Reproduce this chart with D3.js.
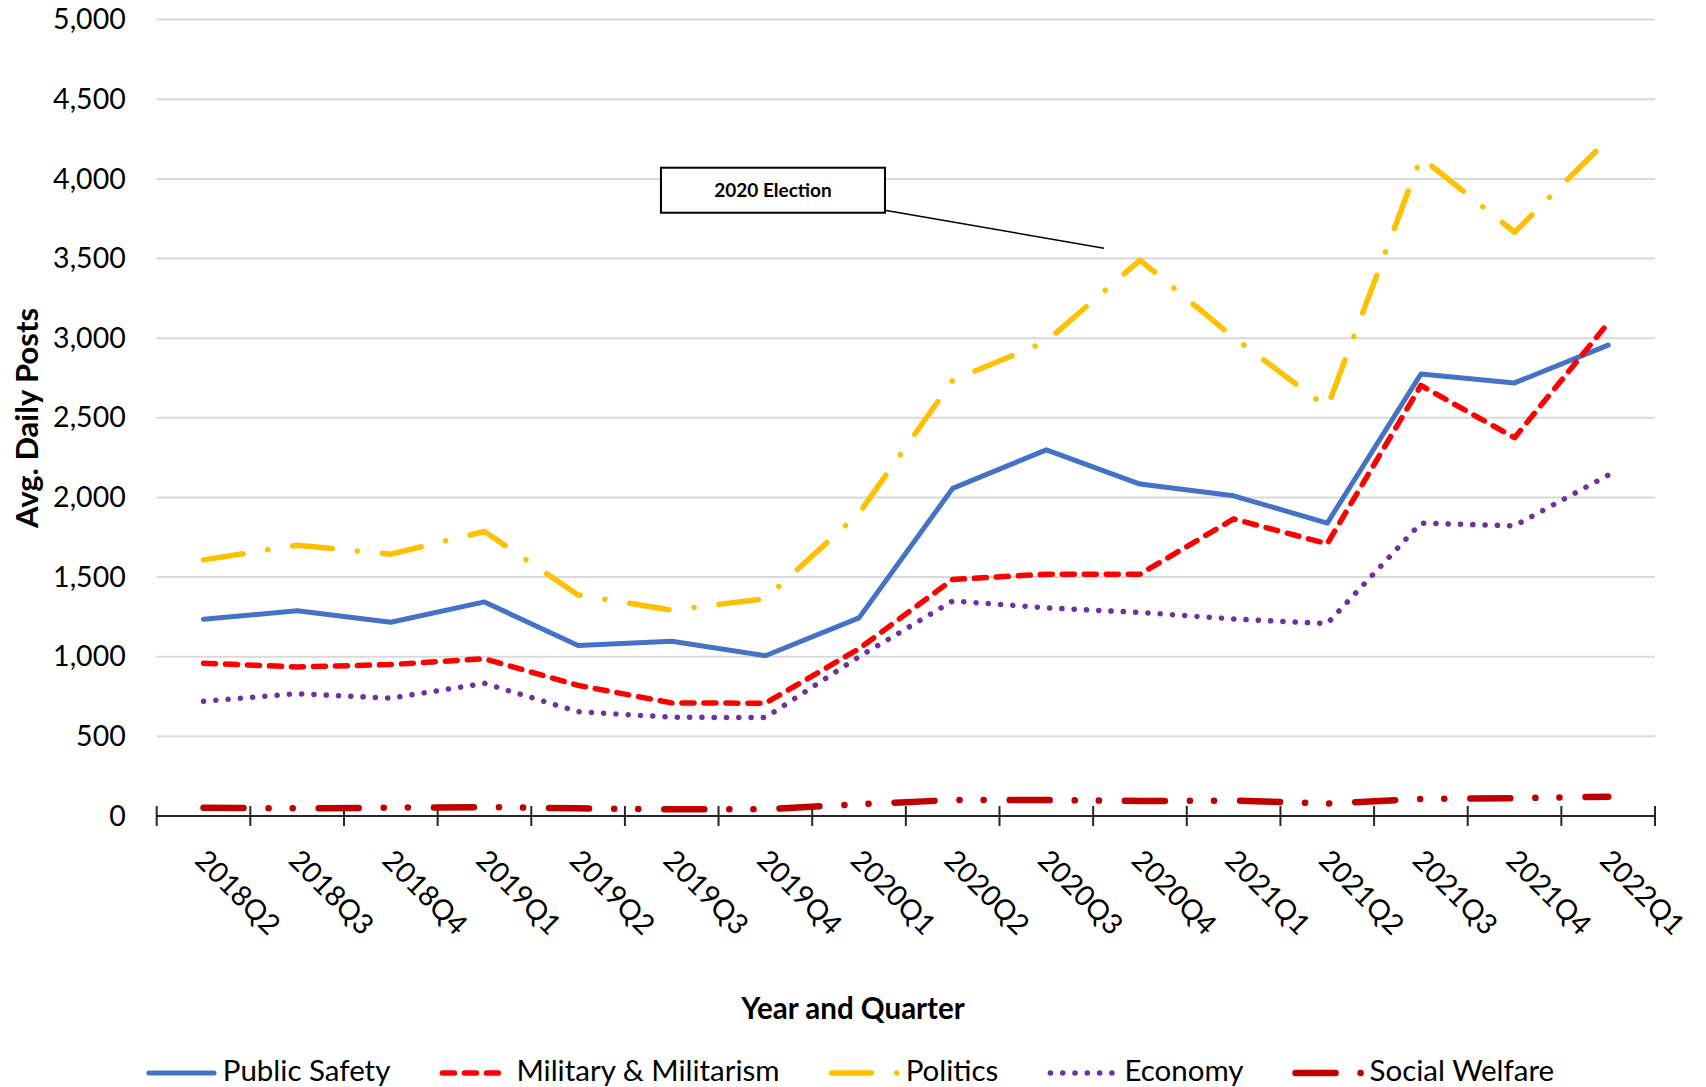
<!DOCTYPE html>
<meta charset="utf-8">
<style>
  body { margin: 0; background: #fff; }
  svg text { font-family: Lato, 'Open Sans', sans-serif; fill: #000; }
</style>
<body>
<div id="my_dataviz"></div>

<!-- Load d3.js -->
<script src="https://d3js.org/d3.v7.min.js"></script>
<script>

// data
var quarters = ["2018Q2", "2018Q3", "2018Q4", "2019Q1", "2019Q2", "2019Q3", "2019Q4", "2020Q1",
                "2020Q2", "2020Q3", "2020Q4", "2021Q1", "2021Q2", "2021Q3", "2021Q4", "2022Q1"];
var publicSafety  = [1235, 1288, 1216, 1344, 1070, 1097, 1006, 1244, 2057, 2299, 2084, 2010, 1839, 2775, 2719, 2956];
var military      = [959, 936, 951, 987, 820, 710, 708, 1050, 1485, 1518, 1518, 1865, 1709, 2703, 2375, 3095];
var politics      = [1608, 1700, 1644, 1786, 1388, 1292, 1365, 1900, 2735, 2980, 3490, 3005, 2565, 4135, 3665, 4250];
var economy       = [720, 768, 740, 833, 655, 620, 618, 1000, 1350, 1307, 1278, 1237, 1208, 1839, 1822, 2140];
var socialWelfare = [52, 48, 52, 56, 48, 42, 43, 74, 100, 100, 94, 97, 78, 107, 112, 121];
var seriesNames = ["Public Safety", "Military & Militarism", "Politics", "Economy", "Social Welfare"];
var yTicks = [0, 500, 1000, 1500, 2000, 2500, 3000, 3500, 4000, 4500, 5000];

// line styles (excel-ish dash patterns)
var series = [
  {name: seriesNames[0], values: publicSafety,  color: "#4472C4", width: 5,   dash: null},
  {name: seriesNames[1], values: military,      color: "#FF0000", width: 5.5, dash: "12,10"},
  {name: seriesNames[2], values: politics,      color: "#FFC000", width: 5.5, dash: "40,25,0.1,25"},
  {name: seriesNames[3], values: economy,       color: "#7030A0", width: 5.5, dash: "0.1,12.2"},
  {name: seriesNames[4], values: socialWelfare, color: "#C00000", width: 6.5, dash: "40,25,0.1,24,0.1,26"}
];

var svgW = 1706, svgH = 1087;
var margin = {top: 19.6, right: 51, bottom: 271, left: 156.7},
    width = svgW - margin.left - margin.right,
    height = svgH - margin.top - margin.bottom;

var root = d3.select("#my_dataviz")
  .append("svg")
    .attr("width", svgW)
    .attr("height", svgH);

var svg = root.append("g")
    .attr("transform", "translate(" + margin.left + "," + margin.top + ")");

var x = d3.scaleBand()
  .domain(quarters)
  .range([0, width])
  .padding(0);

var y = d3.scaleLinear()
  .domain([0, 5000])
  .range([height, 0]);

// gridlines
svg.append("g")
  .selectAll("line")
  .data(yTicks.filter(function(d) { return d > 0; }))
  .enter()
  .append("line")
    .attr("x1", 0)
    .attr("x2", width)
    .attr("y1", function(d) { return y(d); })
    .attr("y2", function(d) { return y(d); })
    .attr("stroke", "#D9D9D9")
    .attr("stroke-width", 2);

// Y axis (labels only)
var yAxis = svg.append("g")
  .call(d3.axisLeft(y).tickValues(yTicks).tickFormat(d3.format(",")).tickSize(0).tickPadding(31));
yAxis.select(".domain").remove();
yAxis.selectAll("text")
  .style("font-size", "28.5px")
  .attr("fill", "#000");

// X axis labels
var xAxis = svg.append("g")
  .attr("transform", "translate(0," + height + ")")
  .call(d3.axisBottom(x).tickSize(0));
xAxis.select(".domain").remove();
xAxis.selectAll("text")
  .attr("y", 0)
  .attr("dy", 0)
  .attr("text-anchor", "start")
  .attr("transform", "translate(-10,46) rotate(45)")
  .style("font-size", "28.5px")
  .attr("fill", "#000");

// X axis line and tick marks at category boundaries
var bounds = quarters.map(function(q) { return x(q); }).concat([x(quarters[quarters.length - 1]) + x.bandwidth()]);
svg.append("line")
  .attr("x1", 0).attr("x2", width)
  .attr("y1", height).attr("y2", height)
  .attr("stroke", "#262626")
  .attr("stroke-width", 2);
svg.append("g")
  .selectAll("line")
  .data(bounds)
  .enter()
  .append("line")
    .attr("x1", function(d) { return d; })
    .attr("x2", function(d) { return d; })
    .attr("y1", height - 10)
    .attr("y2", height + 10)
    .attr("stroke", "#262626")
    .attr("stroke-width", 2);

// lines
var line = d3.line()
  .x(function(d, i) { return x(quarters[i]) + x.bandwidth() / 2; })
  .y(function(d) { return y(d); });

svg.selectAll(".series")
  .data(series)
  .enter()
  .append("path")
    .attr("class", "series")
    .attr("d", function(s) { return line(s.values); })
    .attr("fill", "none")
    .attr("stroke", function(s) { return s.color; })
    .attr("stroke-width", function(s) { return s.width; })
    .attr("stroke-dasharray", function(s) { return s.dash; })
    .attr("stroke-linecap", "round")
    .attr("stroke-linejoin", "round");

// annotation for the election
var annCat = "2020Q4", annVal = 3565;
var ax = x(annCat) + x.bandwidth() / 2;
var boxX = ax - 479, boxY = y(4070), boxW = 224, boxH = 45;
svg.append("line")
  .attr("x1", boxX + boxW - 3).attr("y1", boxY + boxH - 3)
  .attr("x2", ax - 36).attr("y2", y(annVal))
  .attr("stroke", "#000")
  .attr("stroke-width", 1.5);
svg.append("rect")
  .attr("x", boxX).attr("y", boxY)
  .attr("width", boxW).attr("height", boxH)
  .attr("fill", "#fff")
  .attr("stroke", "#000")
  .attr("stroke-width", 2);
svg.append("text")
  .attr("x", boxX + boxW / 2)
  .attr("y", boxY + boxH / 2)
  .attr("dy", "0.35em")
  .attr("text-anchor", "middle")
  .style("font-size", "19px")
  .style("font-weight", "bold")
  .text("2020 Election");

// axis titles
root.append("text")
  .attr("x", svgW / 2)
  .attr("y", 1019)
  .attr("text-anchor", "middle")
  .style("font-size", "29.5px")
  .style("font-weight", "bold")
  .text("Year and Quarter");

root.append("text")
  .attr("transform", "translate(38,418) rotate(-90)")
  .attr("text-anchor", "middle")
  .style("font-size", "31px")
  .style("font-weight", "bold")
  .text("Avg. Daily Posts");

// legend
var sampleW = 68, textGap = 9, itemGap = 49, legendY = 1071;
var legend = root.append("g");
var items = legend.selectAll("g")
  .data(series)
  .enter()
  .append("g");
items.append("text")
  .attr("x", sampleW + textGap)
  .attr("y", 0)
  .attr("dy", "0.35em")
  .style("font-size", "29.5px")
  .text(function(s) { return s.name; });
var offset = 0;
items.each(function(s) {
  var tw = this.querySelector("text").getComputedTextLength();
  d3.select(this).attr("transform", "translate(" + offset + "," + legendY + ")");
  offset += sampleW + textGap + tw + itemGap;
});
var totalW = offset - itemGap;
legend.attr("transform", "translate(" + (svgW / 2 - 3 - totalW / 2) + ",0)");
items.append("line")
  .attr("x1", 3)
  .attr("x2", 68.2)
  .attr("y1", 2).attr("y2", 2)
  .attr("stroke", function(s) { return s.color; })
  .attr("stroke-width", function(s) { return s.width; })
  .attr("stroke-dasharray", function(s) { return s.dash; })
  .attr("stroke-linecap", "round");

</script>
</body>
